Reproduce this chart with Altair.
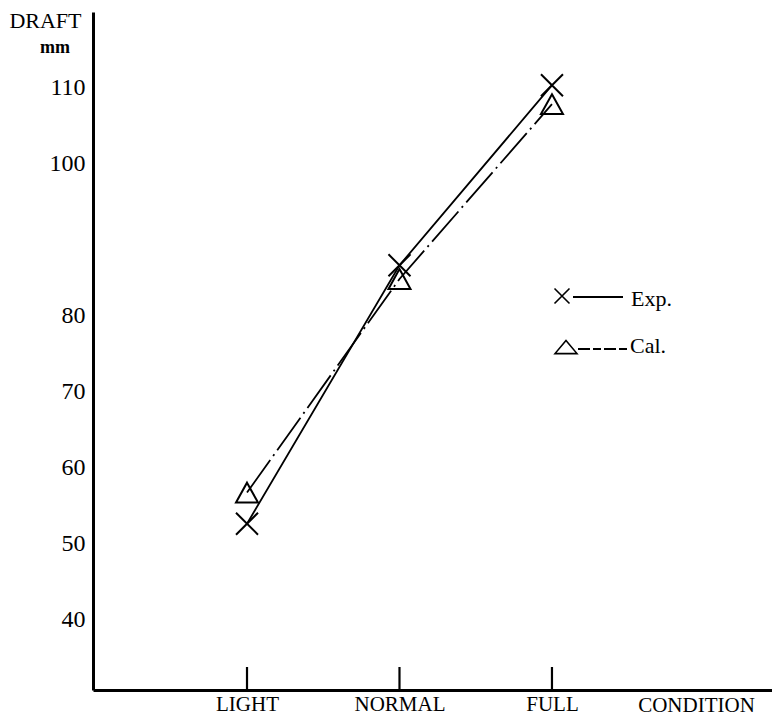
import altair as alt
import pandas as pd

# Loading conditions and measured / calculated draft (mm)
conditions = ["LIGHT", "NORMAL", "FULL"]
condition_pos = [1, 2, 3]
exp_draft = [52.6, 86.6, 110.3]
cal_draft = [56.7, 84.8, 107.8]

y_ticks = [40, 50, 60, 70, 80, 100, 110]
series_names = ["Exp.", "Cal."]

FONT = "Liberation Serif"
X_PATH = "M-1,-1L1,1M-1,1L1,-1"
TRI_PATH = "M0,-0.9L1,0.9L-1,0.9Z"
TRI_FLAT = "M0,-0.6L1,0.6L-1,0.6Z"

rows = []
for c, p, e, k in zip(conditions, condition_pos, exp_draft, cal_draft):
    rows.append({"condition": c, "pos": p, "draft": e, "series": series_names[0]})
    rows.append({"condition": c, "pos": p, "draft": k, "series": series_names[1]})
df = pd.DataFrame(rows)
ticks_df = pd.DataFrame({"pos": condition_pos})

label_expr = " : ".join(
    f"datum.value == {p} ? '{c}'" for p, c in zip(condition_pos, conditions)
) + " : ''"

x_scale = alt.Scale(domain=[-0.01, 4.443], nice=False, zero=False)

x_enc = alt.X(
    "pos:Q",
    scale=x_scale,
    axis=alt.Axis(
        values=condition_pos,
        labelExpr=label_expr,
        ticks=False,
        grid=False,
        domainColor="black",
        domainWidth=3,
        labelFont=FONT,
        labelFontSize=21,
        labelColor="black",
        labelBaseline="alphabetic",
        labelPadding=20,
        title="CONDITION",
        titleFont=FONT,
        titleFontSize=21,
        titleFontWeight="normal",
        titleColor="black",
        titleX=603,
        titleY=21,
        titleAlign="center",
        titleBaseline="alphabetic",
    ),
)
y_enc = alt.Y(
    "draft:Q",
    scale=alt.Scale(domain=[30.72, 119.93], nice=False, zero=False),
    axis=alt.Axis(
        values=y_ticks,
        ticks=False,
        grid=False,
        domainColor="black",
        domainWidth=3,
        labelFont=FONT,
        labelFontSize=24,
        labelColor="black",
        labelPadding=8,
        title="DRAFT",
        titleFont=FONT,
        titleFontSize=22,
        titleFontWeight="normal",
        titleColor="black",
        titleAngle=0,
        titleAlign="right",
        titleBaseline="alphabetic",
        titleX=-12,
        titleY=15,
    ),
)

base = alt.Chart(df).encode(x=x_enc, y=y_enc)

exp_line = base.transform_filter(alt.datum.series == series_names[0]).mark_line(
    color="black", strokeWidth=1.8
)
cal_line = base.transform_filter(alt.datum.series == series_names[1]).mark_line(
    color="black", strokeWidth=1.8, strokeDash=[40, 5, 2, 5]
)
exp_pts = base.transform_filter(alt.datum.series == series_names[0]).mark_point(
    shape=X_PATH, size=484, filled=False, color="black", strokeWidth=2, opacity=1
)
cal_pts = base.transform_filter(alt.datum.series == series_names[1]).mark_point(
    shape=TRI_PATH, size=484, filled=False, color="black", strokeWidth=2, opacity=1
)

# upward tick marks at each loading condition
cond_ticks = alt.Chart(ticks_df).mark_rule(color="black", strokeWidth=2.2).encode(
    x=alt.X("pos:Q", scale=x_scale),
    y=alt.value(655),
    y2=alt.value(678),
)

# unit under the axis title
unit = alt.Chart(pd.DataFrame({"t": ["mm"]})).mark_text(
    font=FONT, fontSize=18, fontWeight="bold", align="center", baseline="alphabetic", color="black"
).encode(text="t:N", x=alt.value(-38), y=alt.value(41))

# hand-drawn key
key_exp_sym = alt.Chart(pd.DataFrame({"k": [0]})).mark_point(
    shape=X_PATH, size=225, filled=False, color="black", strokeWidth=1.6, opacity=1
).encode(x=alt.value(469), y=alt.value(284))
key_exp_line = alt.Chart(pd.DataFrame({"k": [0]})).mark_rule(
    color="black", strokeWidth=1.8
).encode(x=alt.value(480), x2=alt.value(530), y=alt.value(285))
key_exp_text = alt.Chart(pd.DataFrame({"t": [series_names[0]]})).mark_text(
    font=FONT, fontSize=22, align="left", baseline="alphabetic", color="black"
).encode(text="t:N", x=alt.value(538), y=alt.value(294))

key_cal_sym = alt.Chart(pd.DataFrame({"k": [0]})).mark_point(
    shape=TRI_FLAT, size=484, filled=False, color="black", strokeWidth=1.6, opacity=1
).encode(x=alt.value(473), y=alt.value(335))
key_cal_line = alt.Chart(pd.DataFrame({"k": [0]})).mark_rule(
    color="black", strokeWidth=1.8, strokeDash=[12, 3, 8, 3]
).encode(x=alt.value(485), x2=alt.value(535), y=alt.value(337))
key_cal_text = alt.Chart(pd.DataFrame({"t": [series_names[1]]})).mark_text(
    font=FONT, fontSize=22, align="left", baseline="alphabetic", color="black"
).encode(text="t:N", x=alt.value(537), y=alt.value(341))

chart = (
    alt.layer(
        exp_line, cal_line, exp_pts, cal_pts, cond_ticks, unit,
        key_exp_sym, key_exp_line, key_exp_text,
        key_cal_sym, key_cal_line, key_cal_text,
    )
    .properties(
        width=679,
        height=678,
        autosize=alt.AutoSizeParams(type="none"),
        padding={"left": 93, "top": 12, "right": 0, "bottom": 29},
        background="white",
    )
    .configure_view(stroke=None)
)

chart.save("out.html", embed_options={"renderer": "svg", "actions": False})
